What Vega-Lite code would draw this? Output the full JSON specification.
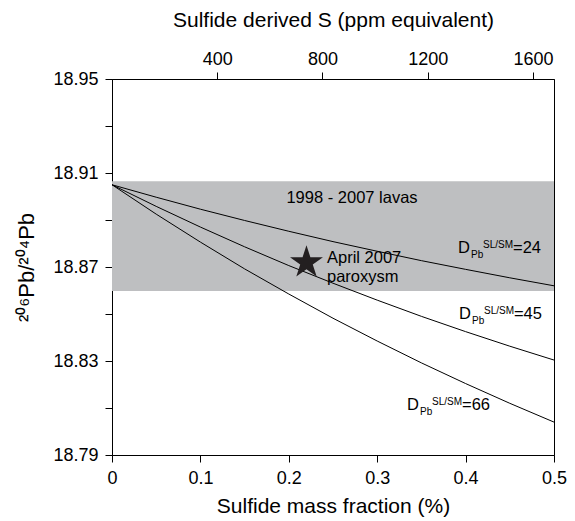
{
  "$schema": "https://vega.github.io/schema/vega-lite/v6.json",
  "width": 442,
  "height": 376,
  "autosize": "none",
  "padding": {"left": 112, "top": 79, "right": 21, "bottom": 66},
  "config": {
    "view": {"stroke": "black", "strokeWidth": 1},
    "axis": {
      "domainColor": "black", "tickColor": "black", "labelColor": "black", "titleColor": "black",
      "labelFont": "Liberation Sans", "titleFont": "Liberation Sans",
      "labelFontSize": 18, "titleFontSize": 21, "titleFontWeight": "normal",
      "tickSize": 7, "labelPadding": 7, "grid": false
    }
  },
  "layer": [
    {
      "data": {"values": [{"lo": 18.8598, "hi": 18.9065}]},
      "mark": {"type": "rect", "color": "#bebfc1"},
      "encoding": {
        "x": {"datum": 0, "type": "quantitative", "axis": null},
        "x2": {"datum": 0.5},
        "y": {"field": "lo", "type": "quantitative", "scale": {"domain": [18.79, 18.95], "nice": false, "zero": false}, "title": "²⁰⁶Pb/²⁰⁴Pb",
          "axis": {"values": [18.79, 18.81, 18.83, 18.85, 18.87, 18.89, 18.91, 18.93, 18.95],
            "labelExpr": "indexof(['18.79','18.83','18.87','18.91','18.95'], format(datum.value, '.2f')) >= 0 ? format(datum.value, '.2f') : ''",
            "titlePadding": 14, "titleFontSize": 22, "labelFlush": false}},
        "y2": {"field": "hi"}
      }
    },
    {
      "data": {"values": [
        {"f": 0, "v": 18.905, "D": 24}, {"f": 0.05, "v": 18.8997, "D": 24}, {"f": 0.1, "v": 18.8946, "D": 24},
        {"f": 0.15, "v": 18.8898, "D": 24}, {"f": 0.2, "v": 18.8852, "D": 24}, {"f": 0.25, "v": 18.8808, "D": 24},
        {"f": 0.3, "v": 18.8767, "D": 24}, {"f": 0.35, "v": 18.8727, "D": 24}, {"f": 0.4, "v": 18.869, "D": 24},
        {"f": 0.45, "v": 18.8654, "D": 24}, {"f": 0.5, "v": 18.862, "D": 24},
        {"f": 0, "v": 18.905, "D": 45}, {"f": 0.05, "v": 18.8958, "D": 45}, {"f": 0.1, "v": 18.887, "D": 45},
        {"f": 0.15, "v": 18.8786, "D": 45}, {"f": 0.2, "v": 18.8706, "D": 45}, {"f": 0.25, "v": 18.8631, "D": 45},
        {"f": 0.3, "v": 18.8559, "D": 45}, {"f": 0.35, "v": 18.849, "D": 45}, {"f": 0.4, "v": 18.8425, "D": 45},
        {"f": 0.45, "v": 18.8363, "D": 45}, {"f": 0.5, "v": 18.8304, "D": 45},
        {"f": 0, "v": 18.905, "D": 66}, {"f": 0.05, "v": 18.8925, "D": 66}, {"f": 0.1, "v": 18.8806, "D": 66},
        {"f": 0.15, "v": 18.8692, "D": 66}, {"f": 0.2, "v": 18.8585, "D": 66}, {"f": 0.25, "v": 18.8482, "D": 66},
        {"f": 0.3, "v": 18.8385, "D": 66}, {"f": 0.35, "v": 18.8292, "D": 66}, {"f": 0.4, "v": 18.8204, "D": 66},
        {"f": 0.45, "v": 18.812, "D": 66}, {"f": 0.5, "v": 18.804, "D": 66}
      ]},
      "mark": {"type": "line", "color": "black", "strokeWidth": 1},
      "encoding": {
        "x": {"field": "f", "type": "quantitative", "scale": {"domain": [0, 0.5], "nice": false},
          "title": "Sulfide mass fraction (%)",
          "axis": {"orient": "bottom", "values": [0, 0.1, 0.2, 0.3, 0.4, 0.5], "labelExpr": "datum.value === 0 ? '0' : format(datum.value, '.1f')", "titlePadding": 8, "labelFlush": false}},
        "y": {"field": "v", "type": "quantitative", "title": "²⁰⁶Pb/²⁰⁴Pb"},
        "detail": {"field": "D", "type": "nominal"}
      }
    },
    {
      "data": {"values": [{"f": 0.22, "v": 18.8719}]},
      "mark": {"type": "point", "shape": "M0,-1L0.2245,-0.309L0.951,-0.309L0.363,0.118L0.588,0.809L0,0.382L-0.588,0.809L-0.363,0.118L-0.951,-0.309L-0.2245,-0.309Z", "filled": true, "size": 1200, "color": "#231f20", "opacity": 1},
      "encoding": {
        "x": {"field": "f", "type": "quantitative", "title": "Sulfide derived S (ppm equivalent)",
          "axis": {"orient": "top", "values": [0.119048, 0.238095, 0.357143, 0.47619], "labelExpr": "format(round(datum.value * 3360), 'd')", "labelPadding": 4, "titlePadding": 20, "labelFlush": false}},
        "y": {"field": "v", "type": "quantitative", "title": "²⁰⁶Pb/²⁰⁴Pb"}
      }
    },
    {
      "data": {"values": [
        {"f": 0.2715, "v": 18.8972, "t": "1998 - 2007 lavas"}
      ]},
      "mark": {"type": "text", "font": "Liberation Sans", "fontSize": 16.5, "baseline": "alphabetic", "align": "center", "color": "black"},
      "encoding": {
        "x": {"field": "f", "type": "quantitative", "axis": null},
        "y": {"field": "v", "type": "quantitative", "title": "²⁰⁶Pb/²⁰⁴Pb"},
        "text": {"field": "t"}
      }
    },
    {
      "data": {"values": [
        {"f": 0.2432, "v": 18.8717, "t": "April 2007"},
        {"f": 0.2432, "v": 18.8636, "t": "paroxysm"}
      ]},
      "mark": {"type": "text", "font": "Liberation Sans", "fontSize": 16.5, "baseline": "alphabetic", "align": "left", "color": "black"},
      "encoding": {
        "x": {"field": "f", "type": "quantitative", "axis": null},
        "y": {"field": "v", "type": "quantitative", "title": "²⁰⁶Pb/²⁰⁴Pb"},
        "text": {"field": "t"}
      }
    },
    {
      "data": {"values": [
        {"f": 0.3914, "v": 18.876, "big": "D", "sub": "Pb", "sup": "SL/SM", "n": "=24"},
        {"f": 0.3925, "v": 18.8479, "big": "D", "sub": "Pb", "sup": "SL/SM", "n": "=45"},
        {"f": 0.3337, "v": 18.8091, "big": "D", "sub": "Pb", "sup": "SL/SM", "n": "=66"}
      ]},
      "encoding": {
        "x": {"field": "f", "type": "quantitative", "axis": null},
        "y": {"field": "v", "type": "quantitative", "title": "²⁰⁶Pb/²⁰⁴Pb"}
      },
      "layer": [
        {"mark": {"type": "text", "font": "Liberation Sans", "fontSize": 16.5, "baseline": "alphabetic", "align": "left", "color": "black"},
         "encoding": {"text": {"field": "big"}}},
        {"mark": {"type": "text", "font": "Liberation Sans", "fontSize": 10, "baseline": "alphabetic", "align": "left", "color": "black", "dx": 13, "dy": 5},
         "encoding": {"text": {"field": "sub"}}},
        {"mark": {"type": "text", "font": "Liberation Sans", "fontSize": 10, "baseline": "alphabetic", "align": "left", "color": "black", "dx": 25, "dy": -5},
         "encoding": {"text": {"field": "sup"}}},
        {"mark": {"type": "text", "font": "Liberation Sans", "fontSize": 16.5, "baseline": "alphabetic", "align": "left", "color": "black", "dx": 55},
         "encoding": {"text": {"field": "n"}}}
      ]
    }
  ],
  "resolve": {"axis": {"x": "independent"}}
}
